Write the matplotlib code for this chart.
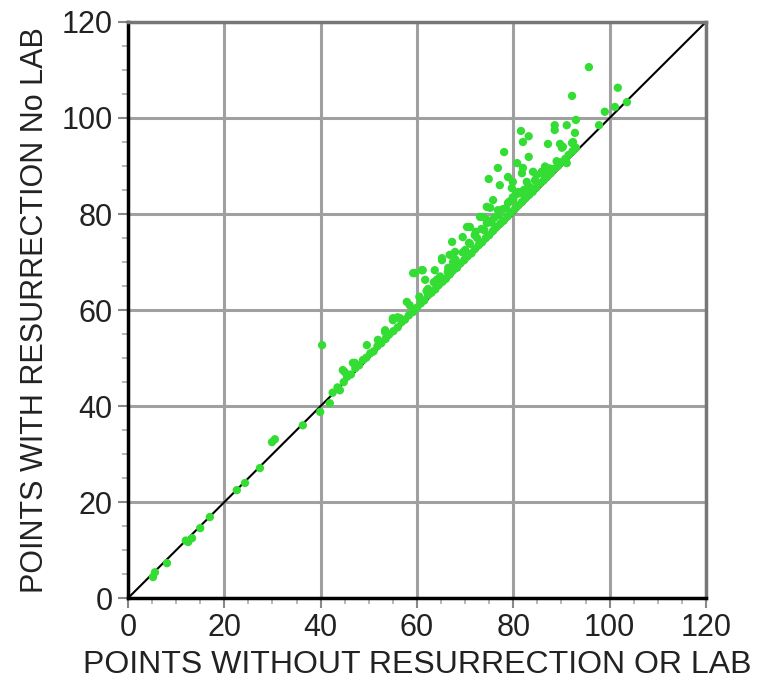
import matplotlib
matplotlib.use('Agg')
import matplotlib.pyplot as plt
from matplotlib.ticker import MultipleLocator

# points without resurrection/lab (x) vs points with resurrection, no lab (y)
x_pts = [5.2, 5.6, 8.1, 12.5, 13.3, 12.0, 15.0, 17.0, 22.6, 24.3, 27.4, 29.9, 30.5,
         36.3, 40.3, 39.9, 41.9, 44.0, 45.0, 47.1, 49.6, 51.9, 53.4, 55.0, 57.9,
         59.6, 61.0, 61.7, 62.3, 59.2, 53.4, 55.0, 56.5, 65.2, 66.8, 44.6, 46.7,
         # band above the diagonal
         61.2, 63.7, 64.1, 66.4, 65.2, 67.5, 67.9, 70.0, 67.3, 69.5, 72.0, 70.4,
         71.0, 74.5, 73.1, 74.5, 73.7, 74.5, 75.2, 75.8, 76.8, 78.9, 79.9, 81.0,
         79.7, 77.2, 83.5, 82.8, 79.9, 78.9, 74.9, 87.0, 85.9, 84.1, 81.8, 82.0,
         76.8, 80.8, 83.2, 78.1, 92.2, 90.1, 89.7, 87.2, 82.0, 83.2, 81.6, 88.6,
         88.6, 91.1, 90.3, 92.4, 92.8, 91.1, 93.0, 97.8, 99.0, 101.1, 103.6, 92.2,
         101.7, 95.7,
         # on the diagonal
         42.5, 43.5, 44.8, 45.5, 46.3, 47.2, 48.0, 48.8, 49.5, 50.3, 51.0, 51.8,
         52.6, 53.5, 54.2, 55.1, 56.0, 56.8, 57.5, 58.3, 59.2, 60.0, 60.8, 61.5,
         62.3, 63.0, 63.8, 64.5, 65.3, 66.0, 66.8, 67.5, 68.3, 69.0, 69.8, 70.5,
         71.3, 72.0, 72.8, 73.5, 74.3, 75.0, 75.8, 76.5, 77.3, 78.0, 78.8, 79.5,
         80.3, 81.0, 81.8, 82.5, 83.3, 84.0, 84.8, 85.5, 86.3, 87.0, 87.8, 88.5,
         89.3, 90.0, 90.8, 91.5, 92.3, 93.0,
         # just above the diagonal
         56.0, 58.5, 60.5, 62.0, 63.5, 64.8, 66.5, 68.0, 69.5, 71.0, 72.5, 74.0,
         75.5, 77.0, 78.5, 80.0, 81.5, 83.0, 84.5, 86.0, 87.5, 89.0,
         70.8, 72.2, 73.4, 76.0, 77.8, 79.2, 80.6, 82.2, 84.8, 86.6]
y_pts = [4.4, 5.4, 7.3, 11.7, 12.5, 12.0, 14.6, 16.9, 22.5, 24.0, 27.1, 32.5, 33.1,
         36.0, 52.7, 38.8, 40.6, 43.3, 47.1, 49.0, 52.7, 53.8, 55.4, 58.3, 61.7,
         67.7, 68.3, 66.3, 64.4, 67.7, 55.8, 57.9, 58.3, 70.8, 71.5, 47.5, 49.0,
         68.3, 68.3, 66.3, 67.9, 70.4, 70.0, 72.1, 72.5, 74.2, 75.2, 75.6, 77.3,
         77.3, 78.1, 79.4, 81.5, 79.4, 78.8, 81.3, 82.9, 80.8, 82.3, 83.5, 84.6,
         85.4, 86.0, 85.6, 86.7, 86.7, 87.7, 87.3, 88.8, 88.8, 88.8, 88.5, 89.6,
         89.6, 90.6, 91.9, 92.9, 94.8, 93.8, 94.6, 94.6, 95.0, 96.2, 97.3, 97.5,
         98.5, 98.5, 94.0, 95.0, 96.9, 90.6, 99.6, 98.5, 101.3, 102.3, 103.3, 104.6,
         106.3, 110.6,
         42.8, 43.9, 45.0, 46.1, 46.6, 47.9, 48.5, 49.6, 50.1, 51.0, 51.4, 52.5,
         53.1, 54.0, 54.9, 55.6, 56.4, 57.5, 58.0, 58.9, 59.6, 60.5, 61.4, 62.0,
         63.1, 63.6, 64.3, 65.2, 65.9, 66.5, 67.4, 68.3, 68.8, 69.7, 70.4, 71.2,
         71.8, 72.7, 73.5, 74.1, 75.0, 75.6, 76.5, 77.3, 78.0, 78.6, 79.5, 80.3,
         81.0, 81.8, 82.5, 83.3, 84.0, 84.6, 85.5, 86.4, 87.0, 87.7, 88.5, 89.4,
         90.0, 90.8, 91.5, 92.3, 93.1, 93.8,
         58.5, 61.0, 62.8, 64.0, 65.8, 67.0, 68.8, 70.5, 72.0, 73.8, 75.0, 76.6,
         78.2, 79.7, 81.2, 83.0, 84.3, 85.5, 87.0, 88.5, 89.5, 91.0,
         74.0, 76.3, 76.9, 79.2, 81.0, 82.6, 84.1, 85.0, 88.1, 89.9]

diag = [0, 120]
ticks = [0, 20, 40, 60, 80, 100, 120]

plt.rcParams['font.family'] = ['Liberation Sans', 'DejaVu Sans']
fig = plt.figure(figsize=(7.59, 6.86), dpi=100)
ax = fig.add_axes([0.1686, 0.128, 0.7615, 0.84])

ax.grid(True, color='#a0a0a0', linewidth=2.2, zorder=0)
ax.set_axisbelow(True)
ax.plot(diag, diag, color='black', linewidth=1.5, zorder=2)
ax.scatter(x_pts, y_pts, s=36, color='#33dd33', edgecolors='none', zorder=3)

ax.set_xlim(0, 120)
ax.set_ylim(0, 120)
ax.set_xticks(ticks)
ax.set_yticks(ticks)
ax.xaxis.set_minor_locator(MultipleLocator(5))
ax.yaxis.set_minor_locator(MultipleLocator(5))
ax.tick_params(which='major', direction='out', length=7, width=1.5, color='#888888',
               labelsize=22, pad=4, labelcolor='#222222')
ax.tick_params(which='minor', direction='out', length=4, width=1.2, color='#aaaaaa')

for side in ['left', 'bottom']:
    ax.spines[side].set_linewidth(2.5)
    ax.spines[side].set_color('black')
for side in ['top', 'right']:
    ax.spines[side].set_linewidth(2.5)
    ax.spines[side].set_color('#777777')

ax.set_xlabel('POINTS WITHOUT RESURRECTION OR LAB', fontsize=23, labelpad=5, color='#222222')
ax.set_ylabel('POINTS WITH RESURRECTION No LAB', fontsize=22, labelpad=8, color='#222222')

fig.savefig('out.png', dpi=100)
